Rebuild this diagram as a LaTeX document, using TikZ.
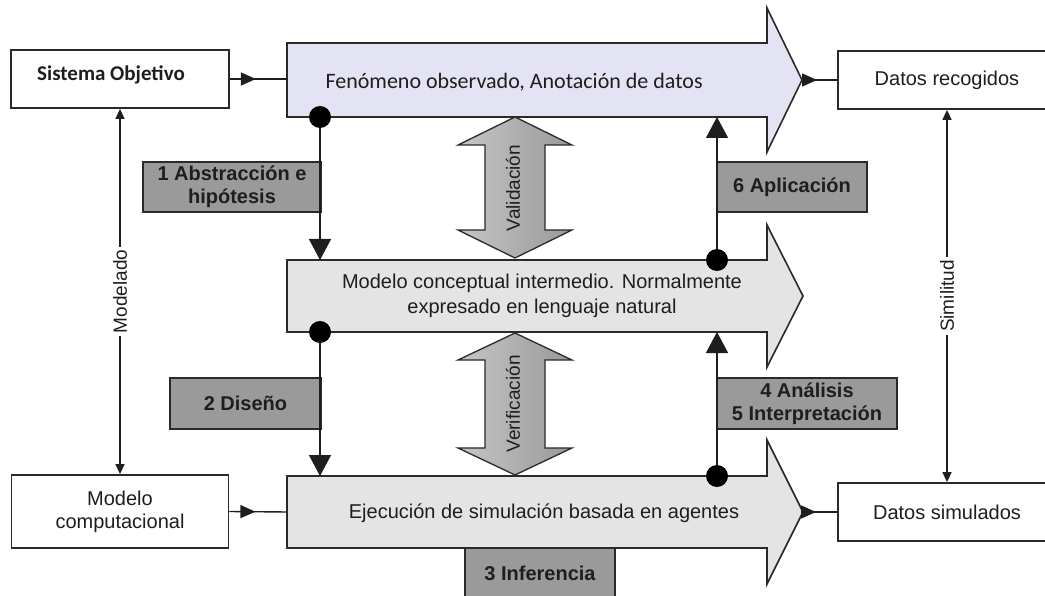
\documentclass[tikz,border=0pt]{standalone}
\usepackage{fontspec}
\setmainfont{Liberation Sans}
\newfontfamily\calfont{Carlito}
\usetikzlibrary{arrows.meta,decorations.markings}

\definecolor{ink}{HTML}{1E1E1E}
\definecolor{edge}{HTML}{2A2A2A}
\definecolor{lavender}{HTML}{E3E3F3}
\definecolor{pale}{HTML}{E4E4E4}
\definecolor{tag}{HTML}{9A9A9A}

\begin{document}
\begin{tikzpicture}[x=1pt,y=-1pt,
  every node/.style={text=ink, font=\fontsize{20}{23}\selectfont},
  wbox/.style={draw=edge, line width=1.8pt, fill=white, inner sep=0pt, align=center},
  tagbox/.style={draw=edge, line width=1.6pt, fill=tag, inner sep=0pt, align=center,
    font=\fontsize{20}{23}\selectfont\bfseries},
  flow/.style={draw=edge, line width=1.6pt, line join=miter},
  conn/.style={draw=ink, line width=1.4pt},
  bighead/.style={-{Triangle[width=22pt,length=21pt]}},
  smalltips/.style={{Triangle[width=9pt,length=10pt]}-{Triangle[width=9pt,length=10pt]}},
  midtip/.style={postaction={decorate,decoration={markings,
    mark=at position #1 with {\arrow{Triangle[width=13pt,length=15pt]}}}}},
  dotn/.style={circle, fill=black, draw=none, minimum size=22pt, inner sep=0pt},
  twin/.style={draw=edge, line width=1.3pt, left color=gray!45, middle color=white, right color=gray!80},
  vlabel/.style={rotate=90, font=\fontsize{19}{22}\selectfont, inner sep=0pt}
]
\useasboundingbox (0,0) rectangle (1045,596);

% three process arrows
\path[flow, fill=lavender] (287,43) -- (767,43) -- (767,8) -- (802,80) -- (767,152) -- (767,117) -- (287,117) -- cycle;
\path[flow, fill=pale] (287,260) -- (767,260) -- (767,225) -- (803,296) -- (767,367) -- (767,332) -- (287,332) -- cycle;
\path[flow, fill=pale] (287,476) -- (767,476) -- (767,440) -- (803,512) -- (767,584) -- (767,548) -- (287,548) -- cycle;

\node[anchor=west, font=\calfont\fontsize{22}{26}\selectfont] (fen) at (322,82) {Fenómeno observado, Anotación de datos};
\node[align=center, font=\fontsize{20}{25}\selectfont] (conc) at (542,296) {Modelo conceptual intermedio. Normalmente\\expresado en lenguaje natural};
\node (ejec) at (544,513) {Ejecución de simulación basada en agentes};

% attachment points on the arrows
\coordinate (tw) at (287,79);
\coordinate (bw) at (287,512);
\coordinate (ttip) at (802,80);
\coordinate (btip) at (803,512);
\coordinate (t1) at (320,117);
\coordinate (m1) at (320,260);
\coordinate (m2) at (320,332);
\coordinate (b1) at (320,476);
\coordinate (t2) at (717,117);
\coordinate (m3) at (717,260);
\coordinate (m4) at (717,332);
\coordinate (b2) at (717,476);

% validation / verification double arrows
\path[twin] (515,117) -- (572,145) -- (545,145) -- (545,230) -- (572,230) -- (515,258)
  -- (458,230) -- (485,230) -- (485,145) -- (458,145) -- cycle;
\node[vlabel] (val) at (513,188) {Validación};
\path[twin] (515,333) -- (572,360) -- (545,360) -- (545,448) -- (572,448) -- (515,475)
  -- (458,448) -- (485,448) -- (485,360) -- (458,360) -- cycle;
\node[vlabel] (ver) at (513,404) {Verificación};

% side boxes
\node[wbox, minimum width=218pt, minimum height=58pt] (so) at (120,79) {};
\node[font=\calfont\bfseries\fontsize{21}{25}\selectfont] (sot) at (111,75) {Sistema Objetivo};
\node[wbox, minimum width=217pt, minimum height=73pt] (mc) at (120,511.5) {Modelo\\computacional};
\node[wbox, minimum width=218pt, minimum height=58pt] (dr) at (947,80) {Datos recogidos};
\node[wbox, minimum width=218pt, minimum height=58pt] (ds) at (947,512) {Datos simulados};

% step labels
\node[tagbox, minimum width=178pt, minimum height=50pt] (s1) at (232,187) {1 Abstracción e\\hipótesis};
\node[tagbox, minimum width=151pt, minimum height=51pt] (s2) at (245.5,403.5) {2 Diseño};
\node[tagbox, minimum width=150pt, minimum height=50pt] (s6) at (792,187) {6 Aplicación};
\node[tagbox, minimum width=180pt, minimum height=51pt] (s45) at (807,403.5) {4 Análisis\\5 Interpretación};
\node[tagbox, minimum width=150pt, minimum height=50pt] (s3) at (540,573) {3 Inferencia};

% step connectors
\node[dotn] (dt1) at (t1) {};
\node[dotn] (dm2) at (m2) {};
\node[dotn] (dm3) at (m3) {};
\node[dotn] (db2) at (b2) {};
\draw[conn, bighead] (dt1) -- (m1);
\draw[conn, bighead] (dm2) -- (b1);
\draw[conn, bighead] (db2) -- (m4);
\draw[conn, bighead] (dm3) -- (t2);

% flow into and out of the arrows
\draw[conn, midtip=26pt] (so.east) -- (tw);
\draw[conn, midtip=26pt] (mc.east) -- (bw);
\draw[conn, midtip=15pt] (ttip) -- (dr.west);
\draw[conn, midtip=13pt] (btip) -- (ds.west);

% modelling and similarity relations
\draw[conn, smalltips] (so.south) -- node[fill=white, vlabel, inner sep=3pt] (lmod) {Modelado} (mc.north);
\draw[conn, smalltips] (dr.south) -- node[fill=white, vlabel, inner sep=3pt] (lsim) {Similitud} (ds.north);
\end{tikzpicture}
\end{document}
